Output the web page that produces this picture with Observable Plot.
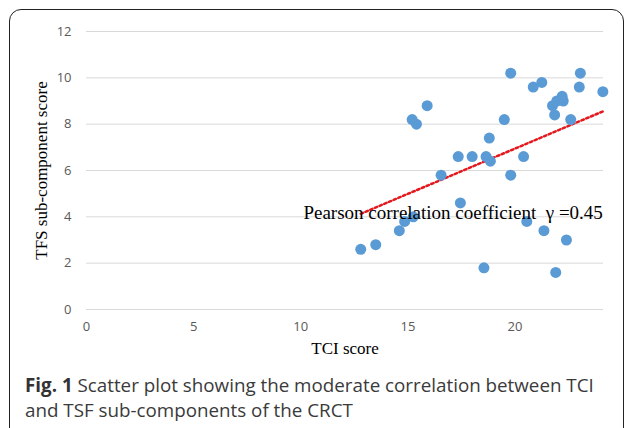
<!DOCTYPE html>
<html>
<head>
<meta charset="utf-8">
<script src="https://cdn.jsdelivr.net/npm/d3@7"></script>
<script src="https://cdn.jsdelivr.net/npm/@observablehq/plot@0.6"></script>
<style>
  body { margin: 0; background: #fff; }
  #wrap { position: relative; width: 627px; height: 428px; overflow: hidden; background: #fff; }
  #frame { position: absolute; left: 9px; top: 9px; width: 615px; height: 440px; border: 1.5px solid #222; border-radius: 12px; box-sizing: border-box; }
  #chart { position: absolute; left: 0; top: 0; }
  #caption { position: absolute; left: 25px; top: 373px; width: 600px; font-family: "Open Sans", sans-serif; font-size: 18.8px; line-height: 25px; color: #3a3a3a; white-space: nowrap; }
  #caption b { font-weight: 700; color: #333; }
</style>
</head>
<body>
<div id="wrap">
  <div id="frame"></div>
  <div id="chart"></div>
  <div id="caption"><b>Fig. 1</b> Scatter plot showing the moderate correlation between TCI<br>and TSF sub-components of the CRCT</div>
</div>
<script>
const tciScore = [12.8, 13.5, 14.6, 14.85, 15.25, 15.2, 15.4, 15.9, 16.55, 17.35, 17.45, 18.0, 18.55, 18.65, 18.8, 18.85, 19.5, 19.8, 19.8, 20.4, 20.55, 20.85, 21.25, 21.35, 21.75, 21.85, 21.9, 21.95, 22.2, 22.25, 22.4, 22.6, 23.0, 23.05, 24.1];
const tfsScore = [2.6, 2.8, 3.4, 3.8, 4.0, 8.2, 8.0, 8.8, 5.8, 6.6, 4.6, 6.6, 1.8, 6.6, 7.4, 6.4, 8.2, 10.2, 5.8, 6.6, 3.8, 9.6, 9.8, 3.4, 8.8, 8.4, 1.6, 9.0, 9.2, 9.0, 3.0, 8.2, 9.6, 10.2, 9.4];
const trendX = [12.8, 24.1];
const trendY = [4.13, 8.55];
const xTicks = [0, 5, 10, 15, 20];
const yTicks = [0, 2, 4, 6, 8, 10, 12];
const annotation = "Pearson correlation coefficient  \u03b3 =0.45";
const xLabel = "TCI score";
const yLabel = "TFS sub-component score";

const points = tciScore.map((x, i) => ({x, y: tfsScore[i]}));
const trend = trendX.map((x, i) => ({x, y: trendY[i]}));
const serif = "Liberation Serif, Times New Roman, serif";

const chart = Plot.plot({
  width: 627,
  height: 370,
  marginLeft: 86,
  marginRight: 24,
  marginTop: 31,
  marginBottom: 61,
  style: { background: "transparent", overflow: "visible" },
  x: { domain: [0, 24.13], ticks: xTicks, label: null },
  y: { domain: [0, 12], ticks: yTicks, label: null },
  marks: [
    Plot.gridY(yTicks, { stroke: "#d9d9d9", strokeOpacity: 1, strokeWidth: 1 }),
    Plot.axisX({ ticks: xTicks, tickSize: 0, tickPadding: 12, fontSize: 13, fill: "#595959", fontFamily: "Open Sans, sans-serif", label: null }),
    Plot.axisY({ ticks: yTicks, tickSize: 0, tickPadding: 15, fontSize: 13, fill: "#595959", fontFamily: "Open Sans, sans-serif", label: null }),
    Plot.line(trend, { x: "x", y: "y", stroke: "#e3191e", strokeWidth: 2.5, strokeDasharray: "2.5,2.6" }),
    Plot.dot(points, { x: "x", y: "y", r: 5.5, fill: "#5b9bd5", stroke: "none" }),
    Plot.text([annotation], { x: 24.1, y: 4.15, text: d => d, textAnchor: "end", fontSize: 19, fontFamily: serif, fill: "#000" }),
    Plot.text([xLabel], { frameAnchor: "bottom", textAnchor: "middle", dy: 44, text: d => d, fontSize: 17, fontFamily: serif, fill: "#000" }),
    Plot.text([yLabel], { frameAnchor: "left", textAnchor: "middle", dx: -45, rotate: -90, text: d => d, fontSize: 17, fontFamily: serif, fill: "#000" })
  ]
});
document.getElementById("chart").appendChild(chart);
</script>
</body>
</html>
